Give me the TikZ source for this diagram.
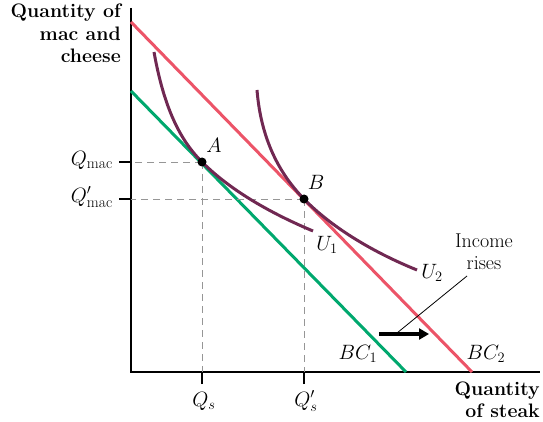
\documentclass[tikz,border=0pt]{standalone}
\usepackage{fontspec}
\usetikzlibrary{arrows.meta}
\definecolor{bcred}{RGB}{236,84,104}
\definecolor{bcgreen}{RGB}{0,168,110}
\definecolor{ucurve}{RGB}{112,40,82}
\definecolor{dashgray}{RGB}{150,150,150}
\newcommand{\subtxt}[1]{\mbox{\fontsize{15.5}{16}\selectfont #1}}
\begin{document}
\begin{tikzpicture}[x=1pt,y=-1pt,
  axis/.style={line width=1.4pt,black},
  bcline/.style={line width=3pt},
  ucv/.style={line width=3pt,ucurve},
  guide/.style={dashgray,line width=0.9pt,dash pattern=on 7pt off 5pt},
  tickl/.style={line width=1.2pt,black},
  lab/.style={font=\fontsize{21}{24}\selectfont,inner sep=1pt},
  axlab/.style={font=\fontsize{19.5}{22.5}\bfseries\selectfont,align=right,inner sep=0pt},
  dot/.style={circle,fill=black,inner sep=0pt,minimum size=9pt}]
\useasboundingbox (0,0) rectangle (543,422);
% axes
\coordinate (O) at (131,372);
\coordinate (Ytop) at (131,8);
\coordinate (Xend) at (540,372);
\draw[axis] (Ytop) -- (O) -- (Xend);
% budget lines
\coordinate (bc1a) at (131,91);
\coordinate (bc1b) at (406,372);
\coordinate (bc2a) at (131,22);
\coordinate (bc2b) at (472,372);
\draw[bcline,bcgreen] (bc1a) -- (bc1b);
\draw[bcline,bcred] (bc2a) -- (bc2b);
% points
\coordinate (A) at (202,162);
\coordinate (B) at (304,199);
% guides
\coordinate (QmacT) at (119,162);
\coordinate (QmacpT) at (119,199);
\coordinate (QsT) at (202,384);
\coordinate (QspT) at (304,384);
\draw[guide] (A) -- (A -| O);
\draw[guide] (A) -- (A |- O);
\draw[guide] (B) -- (B -| O);
\draw[guide] (B) -- (B |- O);
\draw[tickl] (QmacT) -- (QmacT -| O);
\draw[tickl] (QmacpT) -- (QmacpT -| O);
\draw[tickl] (QsT) -- (QsT |- O);
\draw[tickl] (QspT) -- (QspT |- O);
% indifference curves
\coordinate (u1s) at (154,52);
\coordinate (u1e) at (313,231);
\coordinate (u2s) at (257,90);
\coordinate (u2e) at (417,270);
\draw[ucv] (u1s) .. controls (164,108) and (180,140) .. (A)
  .. controls (230,190) and (270,213) .. (u1e);
\draw[ucv] (u2s) .. controls (261,140) and (280,174.4) .. (B)
  .. controls (330,225.7) and (370,251) .. (u2e);
\node[dot] at (A) {};
\node[dot] at (B) {};
% labels
\node[lab] (Alab) at (214,145) {$A$};
\node[lab] (Blab) at (316,182) {$B$};
\node[lab] (U1lab) at (327,245) {$U_1$};
\node[lab] (U2lab) at (432,273) {$U_2$};
\node[lab] (BC1lab) at (358,354) {$BC_1$};
\node[lab] (BC2lab) at (486,354) {$BC_2$};
\node[lab,anchor=east] (Qmac) at (114,160) {$Q_{\subtxt{mac}}$};
\node[lab,anchor=east] (Qmacp) at (114,197) {$Q'_{\subtxt{mac}}$};
\node[lab] (Qs) at (204,401) {$Q_s$};
\node[lab] (Qsp) at (306,401) {$Q'_s$};
\node[axlab,anchor=north east] (ylab) at (121,4) {Quantity of\\mac and\\cheese};
\node[axlab,anchor=south east] (xlab) at (540,418) {Quantity\\of steak};
% income rises
\node[align=center,font=\fontsize{20}{22}\selectfont,inner sep=0pt] (inc) at (484,252) {Income\\rises};
\coordinate (arrS) at (379,334);
\coordinate (arrE) at (429,334);
\draw[line width=3.8pt,-{Triangle[length=10pt,width=11pt]}] (arrS) -- (arrE);
\coordinate (leadS) at (467,276);
\coordinate (leadE) at (397,333);
\draw[line width=0.8pt] (leadS) -- (leadE);
\end{tikzpicture}
\end{document}
